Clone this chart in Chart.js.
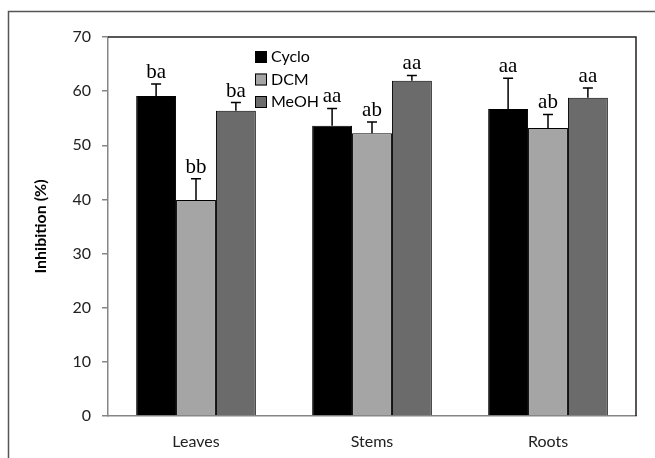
<!DOCTYPE html>
<html>
<head>
<meta charset="utf-8">
<script src="https://cdn.jsdelivr.net/npm/chart.js@4"></script>
<style>
  html, body { margin: 0; padding: 0; background: #fff; }
  #wrap { width: 655px; height: 458px; }
</style>
</head>
<body>
<div id="wrap"><canvas id="inhibitionChart" width="655" height="458"></canvas></div>
<script>
// values
const categories = ['Leaves', 'Stems', 'Roots'];
const seriesNames = ['Cyclo', 'DCM', 'MeOH'];
const cycloValues = [59.1, 53.6, 56.7];
const dcmValues = [39.9, 52.2, 53.2];
const meohValues = [56.4, 61.9, 58.8];
const cycloErrors = [2.2, 3.2, 5.7];
const dcmErrors = [3.9, 2.1, 2.5];
const meohErrors = [1.5, 1.0, 1.8];
const cycloLetters = ['ba', 'aa', 'aa'];
const dcmLetters = ['bb', 'ab', 'ab'];
const meohLetters = ['ba', 'aa', 'aa'];
const yTickValues = [0, 10, 20, 30, 40, 50, 60, 70];

const seriesColors = ['#000000', '#a5a5a5', '#6b6b6b'];
const errors = [cycloErrors, dcmErrors, meohErrors];
const letters = [cycloLetters, dcmLetters, meohLetters];

// outer frame of the figure + plot top/right border
const framePlugin = {
    id: 'frame',
    beforeDraw(chart) {
        const ctx = chart.ctx;
        ctx.save();
        ctx.fillStyle = '#fff';
        ctx.fillRect(0, 0, chart.width, chart.height);
        ctx.strokeStyle = '#555';
        ctx.lineWidth = 1.5;
        ctx.strokeRect(8.5, 11.5, 800, 600);
        ctx.restore();
    },
    afterDraw(chart) {
        const { ctx, chartArea } = chart;
        ctx.save();
        ctx.strokeStyle = '#222';
        ctx.lineWidth = 1.5;
        ctx.beginPath();
        ctx.moveTo(chartArea.left, chartArea.top);
        ctx.lineTo(chartArea.right, chartArea.top);
        ctx.lineTo(chartArea.right, chartArea.bottom);
        ctx.stroke();
        ctx.restore();
    }
};

// upward error bars and significance letters
const errorPlugin = {
    id: 'errorBars',
    afterDatasetsDraw(chart) {
        const ctx = chart.ctx;
        const yScale = chart.scales.y;
        ctx.save();
        chart.data.datasets.forEach((ds, i) => {
            const meta = chart.getDatasetMeta(i);
            meta.data.forEach((bar, j) => {
                const top = yScale.getPixelForValue(ds.data[j] + errors[i][j]);
                const x = bar.x;
                ctx.strokeStyle = '#000';
                ctx.lineWidth = 1.5;
                ctx.beginPath();
                ctx.moveTo(x, bar.y);
                ctx.lineTo(x, top);
                ctx.moveTo(x - 5, top);
                ctx.lineTo(x + 5, top);
                ctx.stroke();
                ctx.fillStyle = '#000';
                ctx.font = '21px "Liberation Serif", serif';
                ctx.textAlign = 'center';
                ctx.textBaseline = 'alphabetic';
                ctx.fillText(letters[i][j], x, top - 6);
            });
        });
        ctx.restore();
    }
};

// legend drawn inside the plot area
const legendPlugin = {
    id: 'insideLegend',
    afterDraw(chart) {
        const ctx = chart.ctx;
        ctx.save();
        ctx.font = '16px Lato, sans-serif';
        ctx.textBaseline = 'middle';
        ctx.textAlign = 'left';
        chart.data.datasets.forEach((ds, i) => {
            const y = 57 + i * 22.5;
            ctx.fillStyle = ds.backgroundColor;
            ctx.fillRect(255, y - 6, 12, 12);
            ctx.strokeStyle = '#000';
            ctx.lineWidth = 1;
            ctx.strokeRect(255.5, y - 5.5, 11, 11);
            ctx.fillStyle = '#000';
            ctx.fillText(ds.label, 271, y);
        });
        ctx.restore();
    }
};

const valueSets = [cycloValues, dcmValues, meohValues];

new Chart(document.getElementById('inhibitionChart'), {
    type: 'bar',
    data: {
        labels: categories,
        datasets: seriesNames.map((name, i) => ({
            label: name,
            data: valueSets[i],
            backgroundColor: seriesColors[i],
            borderColor: '#000',
            borderWidth: 1,
            categoryPercentage: 0.68,
            barPercentage: 1.0
        }))
    },
    options: {
        responsive: false,
        animation: false,
        devicePixelRatio: 1,
        layout: { padding: { top: 37, right: 19, left: 0, bottom: 0 } },
        plugins: {
            legend: { display: false },
            tooltip: { enabled: false }
        },
        scales: {
            x: {
                grid: { display: false, drawTicks: false },
                border: { color: '#868686', width: 1.5 },
                ticks: {
                    color: '#222',
                    font: { family: 'Lato', size: 16 },
                    padding: 16
                },
                afterFit(scale) { scale.height = 42; }
            },
            y: {
                min: 0,
                max: 70,
                afterBuildTicks(scale) {
                    scale.ticks = yTickValues.map(v => ({ value: v }));
                },
                grid: {
                    drawOnChartArea: false,
                    tickLength: 6,
                    color: '#868686',
                    lineWidth: 1.5
                },
                border: { color: '#868686', width: 1.5 },
                ticks: {
                    color: '#222',
                    font: { family: 'Lato', size: 16 },
                    padding: 11
                },
                title: {
                    display: true,
                    text: 'Inhibition (%)',
                    color: '#000',
                    font: { family: 'Lato', size: 16, weight: 'bold' },
                    padding: { top: 31, bottom: 0 }
                },
                afterFit(scale) { scale.width = 108; }
            }
        }
    },
    plugins: [framePlugin, errorPlugin, legendPlugin]
});
</script>
</body>
</html>
